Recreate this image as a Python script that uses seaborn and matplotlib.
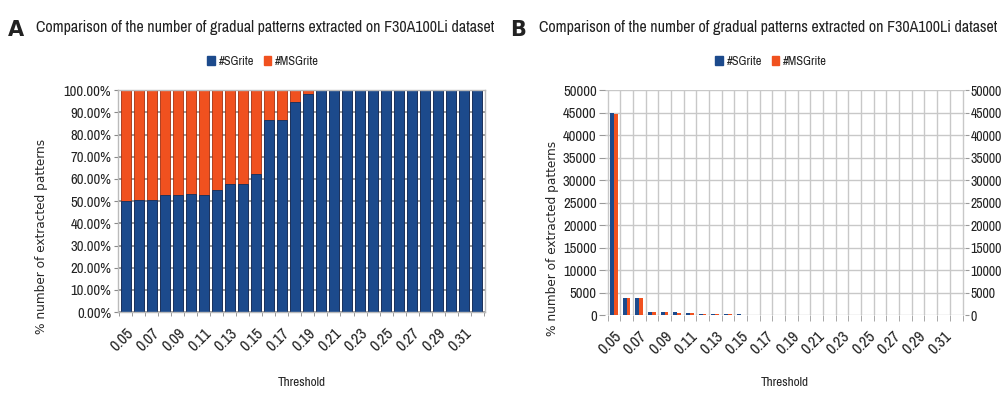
# Comparison of gradual patterns extracted on F30A100Li (SGrite vs MSGrite)

import numpy as np
import pandas as pd
import seaborn as sns
import matplotlib.pyplot as plt
from matplotlib.patches import Patch
from matplotlib.ticker import FixedLocator, PercentFormatter

# Data

thresholds = ['0.05', '0.06', '0.07', '0.08', '0.09', '0.10', '0.11', '0.12', '0.13', '0.14',
              '0.15', '0.16', '0.17', '0.18', '0.19', '0.20', '0.21', '0.22', '0.23', '0.24',
              '0.25', '0.26', '0.27', '0.28', '0.29', '0.30', '0.31', '0.32']

# share of #SGrite in the total (panel A)
sgrite_pct = [50.1, 50.7, 50.7, 52.9, 52.9, 53.4, 52.9, 55.2, 57.6, 57.9,
              62.4, 86.5, 86.5, 94.5, 98.2, 100, 100, 100, 100, 100,
              100, 100, 100, 100, 100, 100, 100, 100]
msgrite_pct = [100 - p for p in sgrite_pct]

# counts (panel B)
sgrite_count = [45000, 3800, 3800, 700, 700, 600, 550, 300, 200, 200,
                120, 60, 40, 30, 20, 15, 12, 10, 8, 8,
                6, 6, 5, 5, 4, 4, 3, 3]
msgrite_count = [44600, 3700, 3700, 620, 620, 520, 490, 245, 150, 145,
                 72, 9, 6, 2, 0, 0, 0, 0, 0, 0,
                 0, 0, 0, 0, 0, 0, 0, 0]

blue = '#1c4a8c'
orange = '#f0511f'
title = 'Comparison of the number of gradual patterns extracted on F30A100Li dataset'

sns.set_style('white')
# narrow face like the original; first installed one wins
narrow = ['Liberation Sans Narrow', 'Archivo Narrow', 'Roboto Condensed', 'PT Sans Narrow', 'DejaVu Sans']
plt.rcParams['font.family'] = narrow
plt.rcParams['font.stretch'] = 'condensed'
plt.rcParams['text.color'] = '#222222'
plt.rcParams['xtick.color'] = '#222222'
plt.rcParams['ytick.color'] = '#222222'

fig = plt.figure(figsize=(10.04, 3.96), dpi=100)

# ---------- Panel A: 100% stacked bars ----------
ax1 = fig.add_axes([0.1175, 0.212, 0.3655, 0.56])
df_pct = pd.DataFrame({'threshold': thresholds,
                       'total': [s + m for s, m in zip(sgrite_pct, msgrite_pct)],
                       'sg': sgrite_pct})
sns.barplot(data=df_pct, x='threshold', y='total', color=orange, width=0.75,
            edgecolor='#a33010', linewidth=0.6, saturation=1, ax=ax1)
sns.barplot(data=df_pct, x='threshold', y='sg', color=blue, width=0.75,
            edgecolor='#10305e', linewidth=0.6, saturation=1, ax=ax1)
ax1.set_ylim(0, 100)
ax1.set_xlim(-0.6, len(thresholds) - 0.4)
ax1.yaxis.set_major_locator(FixedLocator(np.arange(0, 101, 10)))
ax1.yaxis.set_major_formatter(PercentFormatter(decimals=2))
ax1.xaxis.set_minor_locator(FixedLocator(np.arange(-0.5, len(thresholds), 1)))
ax1.grid(axis='y', color='#888888', linewidth=1.2)
ax1.set_axisbelow(True)
for s in ax1.spines.values():
    s.set_color('#bbbbbb')
    s.set_linewidth(1)
ax1.tick_params(axis='y', left=True, length=3, color='#888888')
ax1.tick_params(axis='x', which='minor', bottom=True, length=3, color='#888888')

# ---------- Panel B: grouped counts ----------
ax2 = fig.add_axes([0.6026, 0.2045, 0.3586, 0.568])
df_cnt = pd.DataFrame({'threshold': thresholds * 2,
                       'count': sgrite_count + msgrite_count,
                       'method': ['#SGrite'] * len(thresholds) + ['#MSGrite'] * len(thresholds)})
sns.barplot(data=df_cnt, x='threshold', y='count', hue='method',
            palette=[blue, orange], width=0.6, saturation=1, linewidth=0,
            legend=False, ax=ax2)
ax2.set_ylim(0, 50000)
ax2.set_xlim(-0.7, len(thresholds) - 0.3)
ax2.yaxis.set_major_locator(FixedLocator(np.arange(0, 50001, 5000)))
ax2.xaxis.set_minor_locator(FixedLocator(np.arange(-0.5, len(thresholds), 1)))
ax2.grid(axis='y', color='#c8c8c8', linewidth=1)
ax2.grid(axis='x', which='minor', color='#c8c8c8', linewidth=1)
ax2.set_axisbelow(True)
for s in ax2.spines.values():
    s.set_visible(False)
ax2.tick_params(axis='y', left=True, length=4, color='#999999')
ax2.tick_params(axis='x', which='minor', bottom=True, length=4, color='#999999')

ax2r = ax2.twinx()
ax2r.set_ylim(0, 50000)
ax2r.yaxis.set_major_locator(FixedLocator(np.arange(0, 50001, 5000)))
for s in ax2r.spines.values():
    s.set_visible(False)
ax2r.tick_params(axis='y', right=True, length=3, color='#999999', labelsize=10, pad=1)
ax2r.grid(False)

# ---------- common dressing ----------
for ax, lab_x, lab_y in [(ax1, -0.19, -0.293), (ax2, -0.128, -0.276)]:
    ax.set_xticks(range(0, len(thresholds), 2))
    ax.set_xticklabels(thresholds[::2], rotation=45, ha='right', rotation_mode='anchor',
                       fontsize=11.5)
    ax.tick_params(axis='x', which='major', length=0, pad=10)
    ax.tick_params(axis='y', labelsize=10.5, pad=2)
    ax.set_xlabel('Threshold', fontsize=9.5)
    ax.xaxis.set_label_coords(0.5, lab_y)
    ax.set_ylabel('% number of extracted patterns', fontsize=8.7,
                  family='DejaVu Sans', fontstretch='normal')
    ax.yaxis.set_label_coords(lab_x, 0.34)

handles = [Patch(color=blue, label='#SGrite'), Patch(color=orange, label='#MSGrite')]
for x in [0.262, 0.768]:
    fig.legend(handles=handles, loc='center', bbox_to_anchor=(x, 0.845), ncol=2,
               frameon=False, fontsize=9, handlelength=0.6, handleheight=0.8,
               handletextpad=0.3, columnspacing=0.8)

fig.text(0.008, 0.925, 'A', fontsize=15, fontweight='bold', family='DejaVu Sans',
         fontstretch='normal', va='center')
fig.text(0.036, 0.93, title, fontsize=11.5, va='center')
fig.text(0.508, 0.925, 'B', fontsize=15, fontweight='bold', family='DejaVu Sans',
         fontstretch='normal', va='center')
fig.text(0.537, 0.93, title, fontsize=11.5, va='center')

fig.savefig('out.png', dpi=100)
